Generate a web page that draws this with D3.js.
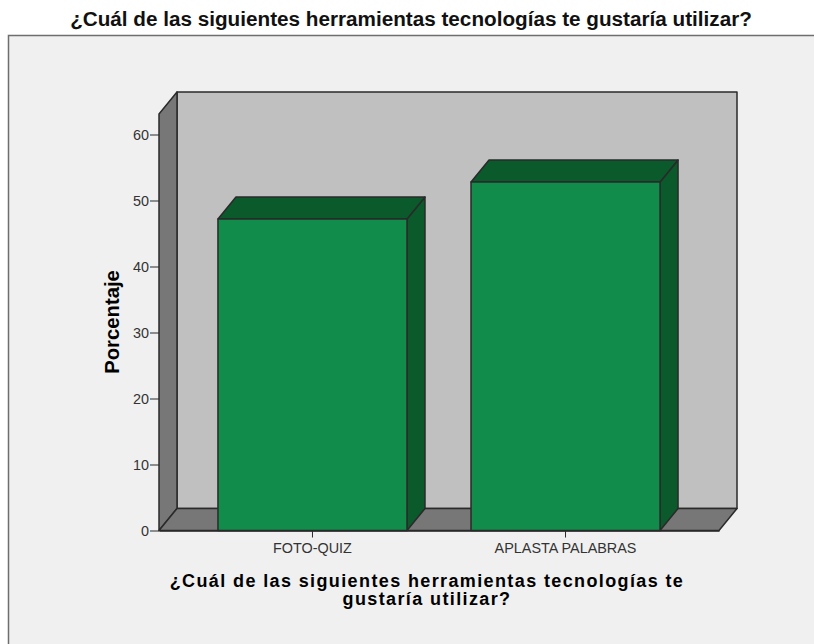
<!DOCTYPE html>
<html><head><meta charset="utf-8">
<style>html,body{margin:0;padding:0;background:#fff}svg{display:block}text{font-family:"Liberation Sans",Arial,sans-serif}</style>
<script src="https://cdn.jsdelivr.net/npm/d3@7"></script></head>
<body><svg id="c" width="814" height="644"></svg>
<script>
const categories = ["FOTO-QUIZ", "APLASTA PALABRAS"];
const percentages = [47.2, 52.8];
const yTicks = [0, 10, 20, 30, 40, 50, 60];
const chartTitle = "¿Cuál de las siguientes herramientas tecnologías te gustaría utilizar?";
const xTitleLines = ["¿Cuál de las siguientes herramientas tecnologías te", "gustaría utilizar?"];
const yTitle = "Porcentaje";

const svg = d3.select("#c");
const dx = 18, dy = 22, stroke = "#2a2a2a";
const font = '"Liberation Sans",Arial,sans-serif';
const y = d3.scaleLinear().domain([0, 60]).range([530.5, 134.5]);
const x = d3.scaleBand().domain(categories).range([159, 719]).paddingInner(0.253).paddingOuter(0.233);
const yTop = 114, L = 159, R = 719, B = 530.5;
const poly = (pts, fill, sw = 1.5) => svg.append("path")
  .attr("d", d3.line()(pts) + "Z").attr("fill", fill).attr("stroke", stroke)
  .attr("stroke-width", sw).attr("stroke-linejoin", "round");

svg.append("rect").attr("x", 8.5).attr("y", 35.5).attr("width", 820).attr("height", 640)
  .attr("fill", "#f0f0f0").attr("stroke", "#6e6e6e").attr("stroke-width", 1.5);

svg.append("text").attr("x", 411).attr("y", 26).attr("text-anchor", "middle")
  .attr("font-size", 20.7).attr("font-weight", "bold").attr("fill", "#111").text(chartTitle);

// chart walls
poly([[L + dx, yTop - dy], [R + dx, yTop - dy], [R + dx, B - dy], [L + dx, B - dy]], "#c0c0c0");
poly([[L, yTop], [L + dx, yTop - dy], [L + dx, B - dy], [L, B]], "#777777");
poly([[L, B], [L + dx, B - dy], [R + dx, B - dy], [R, B]], "#777777");

// bars
categories.forEach((c, i) => {
  const x0 = x(c), x1 = x0 + x.bandwidth(), t = y(percentages[i]);
  poly([[x1, t], [x1 + dx, t - dy], [x1 + dx, B - dy], [x1, B]], "#0a5a2c");
  poly([[x0, t], [x0 + dx, t - dy], [x1 + dx, t - dy], [x1, t]], "#0a5a2c");
  poly([[x0, t], [x1, t], [x1, B], [x0, B]], "#128c4a");
});

// axes
const gy = svg.append("g").attr("transform", `translate(${L},0)`)
  .call(d3.axisLeft(y).tickValues(yTicks).tickSize(9).tickPadding(1));
gy.select(".domain").remove();
gy.selectAll("line").attr("stroke", stroke);
gy.selectAll("text").attr("font-size", 14.4).attr("fill", "#333").style("font-family", font);

const gx = svg.append("g").attr("transform", `translate(0,${B})`)
  .call(d3.axisBottom(x).tickSizeInner(7).tickSizeOuter(0).tickPadding(5));
gx.select(".domain").attr("stroke", stroke).attr("stroke-width", 1.5);
gx.selectAll("line").attr("stroke", stroke);
gx.selectAll("text").attr("font-size", 14.4).attr("fill", "#333").style("font-family", font);

// axis titles
svg.append("text").attr("transform", "translate(119,322) rotate(-90)").attr("text-anchor", "middle")
  .attr("font-size", 20.3).attr("font-weight", "bold").attr("fill", "#000").text(yTitle);
svg.append("text").attr("text-anchor", "middle").attr("font-size", 18).attr("font-weight", "bold").attr("fill", "#000")
  .attr("letter-spacing", 1.38)
  .selectAll("tspan").data(xTitleLines).join("tspan")
  .attr("x", 427).attr("y", (d, i) => 587 + i * 18).text(d => d);
</script></body></html>
